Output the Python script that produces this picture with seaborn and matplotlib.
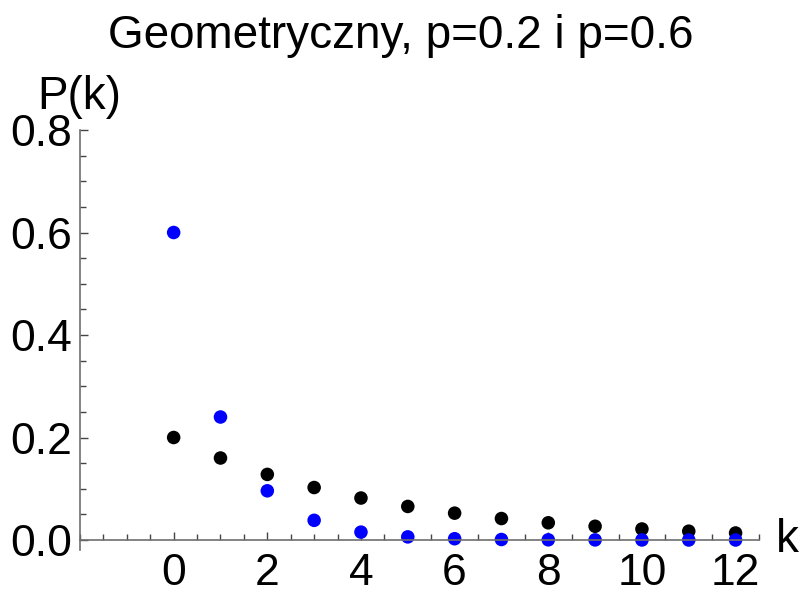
import numpy as np
import pandas as pd
import matplotlib.pyplot as plt
from matplotlib.ticker import MultipleLocator
import seaborn as sns

# dane: rozklad geometryczny P(k)
k = [0, 1, 2, 3, 4, 5, 6, 7, 8, 9, 10, 11, 12]
p02 = [0.2, 0.16, 0.128, 0.1024, 0.0819, 0.0655, 0.0524, 0.0419,
       0.0336, 0.0268, 0.0215, 0.0172, 0.0137]
p06 = [0.6, 0.24, 0.096, 0.0384, 0.0154, 0.0061, 0.0025, 0.0010,
       0.0004, 0.0002, 0.0001, 0.00003, 0.00001]
xticks = [0, 2, 4, 6, 8, 10, 12]
yticks = [0.0, 0.2, 0.4, 0.6, 0.8]

df = pd.DataFrame({
    'k': k + k,
    'P': p02 + p06,
    'p': ['0.2'] * len(k) + ['0.6'] * len(k),
})

sns.set_style("white")
plt.rcParams['font.family'] = ['Liberation Sans', 'DejaVu Sans']

fig = plt.figure(figsize=(8.01, 5.99), dpi=100)
ax = fig.add_axes([80 / 801, 1 - 550 / 599, (759 - 80) / 801, (550 - 130) / 599])

sns.scatterplot(data=df, x='k', y='P', hue='p',
                palette={'0.2': 'black', '0.6': 'blue'},
                s=95, linewidth=0, legend=False, ax=ax, zorder=1)

ax.set_xlim(-2, 12.5)
ax.set_ylim(-0.0195, 0.8)

# osie w stylu Mathematica
ax.spines['top'].set_visible(False)
ax.spines['right'].set_visible(False)
ax.spines['bottom'].set_position(('data', 0))
for s in ['left', 'bottom']:
    ax.spines[s].set_color('#6e6e6e')
    ax.spines[s].set_linewidth(1.2)
    ax.spines[s].set_zorder(3)

ax.set_xticks(xticks)
ax.set_xticklabels([str(t) for t in xticks])
ax.set_yticks(yticks)
ax.set_yticklabels([f"{t:.1f}" for t in yticks])
ax.xaxis.set_minor_locator(MultipleLocator(0.5))
ax.yaxis.set_minor_locator(MultipleLocator(0.05))
ax.tick_params(which='both', bottom=True, left=True, direction='in',
               color='#444444', width=1.0, labelsize=32, labelcolor='black')
ax.tick_params(which='major', length=6)
ax.tick_params(which='minor', length=4)
ax.tick_params(axis='x', which='major', pad=9)
ax.tick_params(axis='y', which='major', pad=6)
ax.set_xlabel("")
ax.set_ylabel("")
ax.grid(False)

fig.text(401 / 801, 1 - 36 / 599, "Geometryczny, p=0.2 i p=0.6",
         ha='center', va='center', fontsize=33, color='black')
fig.text(79 / 801, 1 - 97 / 599, "P(k)", ha='center', va='center',
         fontsize=33, color='black')
fig.text(787 / 801, 1 - 540 / 599, "k", ha='center', va='center',
         fontsize=33, color='black')

fig.savefig("out.png", dpi=100)
plt.close(fig)
